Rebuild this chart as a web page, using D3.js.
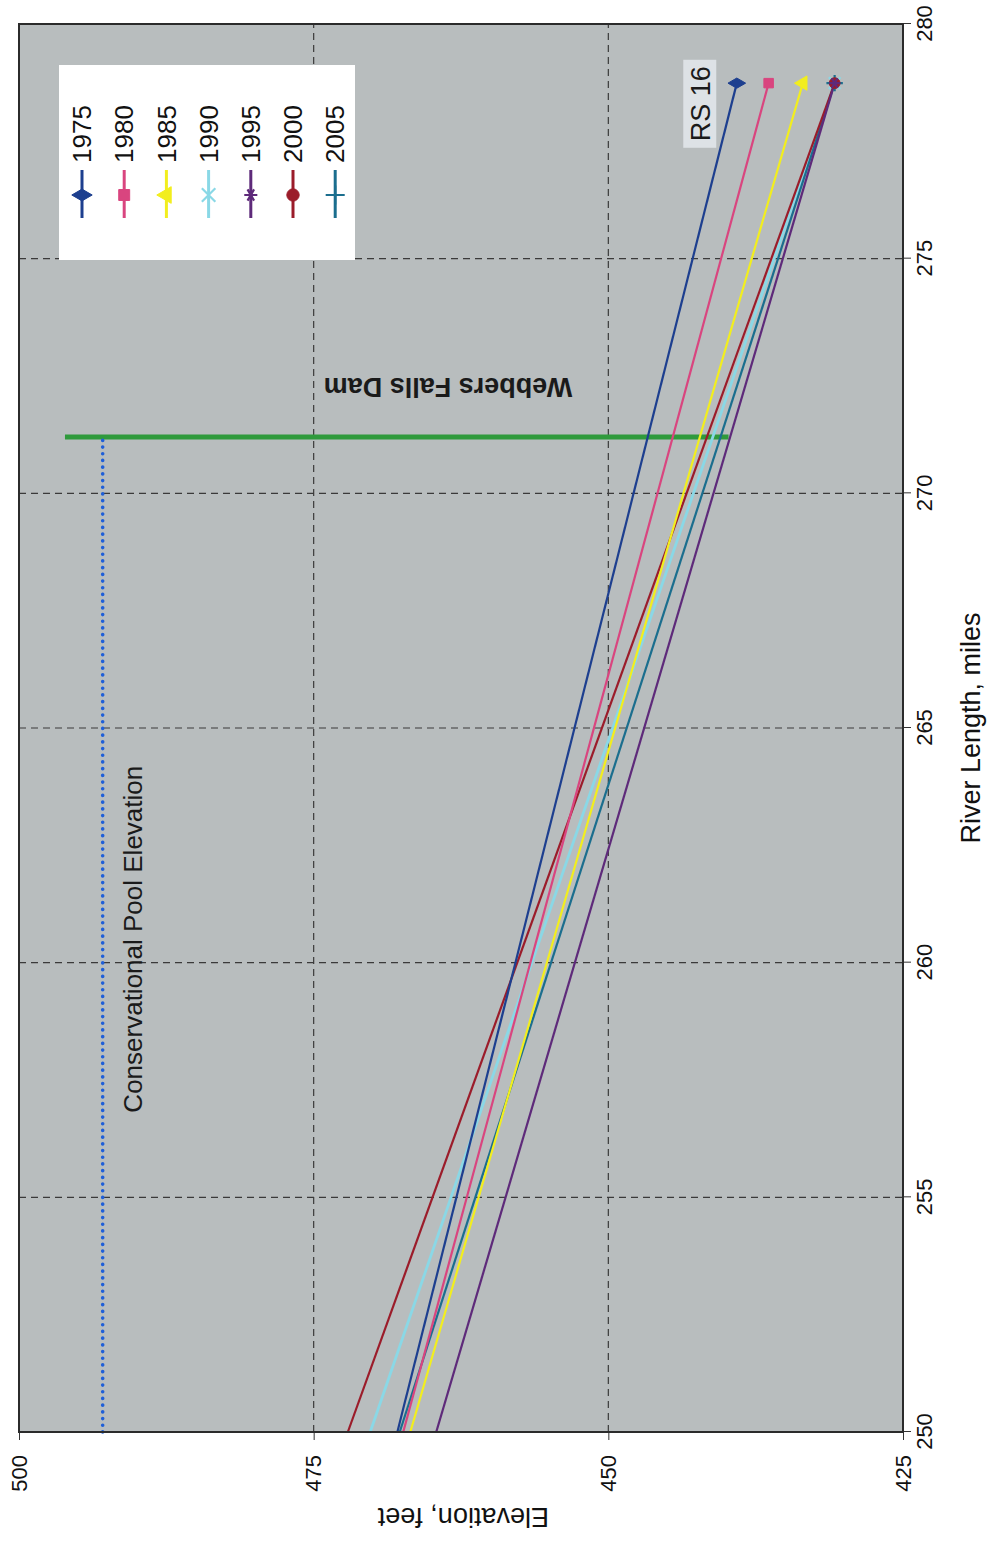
<!DOCTYPE html>
<html>
<head>
<meta charset="utf-8">
<script src="https://cdn.jsdelivr.net/npm/d3@7"></script>
<style>
  body { margin: 0; background: #fff; }
  svg { display: block; font-family: "Liberation Sans", Arial, sans-serif; }
</style>
</head>
<body>
<div id="chart"></div>
<script>
// profile data: river mile vs water surface elevation
const years = ['1975', '1980', '1985', '1990', '1995', '2000', '2005']
const miles = [250, 278.74]
const elev1975 = [467.9, 439.1]
const elev1980 = [467.4, 436.4]
const elev1985 = [466.8, 433.5]
const elev1990 = [470.2, 430.8]
const elev1995 = [464.6, 430.8]
const elev2000 = [472.1, 430.8]
const elev2005 = [467.7, 430.8]
const colors = ['#1d3f8f', '#d9457f', '#f2ee1e', '#8ad8e6', '#5e2a7a', '#9b1c2a', '#1b6e8e']

const mileTicks = [250, 255, 260, 265, 270, 275, 280]
const elevTicks = [425, 450, 475, 500]

// annotations
const damMile = 271.2
const damElev = [496.1, 439.8]
const poolElev = 492.9
const poolMiles = [250, 271.2]

const width = 997
const height = 1543

// the chart is drawn upright and then turned a quarter turn to the left
const left = 19, bottom = 1432
const W = 1408   // mile direction
const H = 884    // elevation direction

const svg = d3.select('#chart').append('svg')
    .attr('width', width)
    .attr('height', height)

const g = svg.append('g')
    .attr('transform', `translate(${left},${bottom}) rotate(-90)`)

const x = d3.scaleLinear().domain([250, 280]).range([0, W])
const y = d3.scaleLinear().domain([425, 500]).range([H, 0])

// plot background
g.append('rect')
    .attr('width', W).attr('height', H)
    .attr('fill', '#b8bdbe')

// grid
g.append('g').selectAll('line')
    .data(mileTicks.slice(1, -1))
    .join('line')
    .attr('x1', d => x(d)).attr('x2', d => x(d))
    .attr('y1', 0).attr('y2', H)
    .attr('stroke', '#3a3a3a').attr('stroke-width', 1.2)
    .attr('stroke-dasharray', '7,5')

g.append('g').selectAll('line')
    .data(elevTicks.slice(1, -1))
    .join('line')
    .attr('y1', d => y(d)).attr('y2', d => y(d))
    .attr('x1', 0).attr('x2', W)
    .attr('stroke', '#3a3a3a').attr('stroke-width', 1.2)
    .attr('stroke-dasharray', '7,5')

// axes
const xAxis = g.append('g')
    .attr('transform', `translate(0,${H})`)
    .call(d3.axisBottom(x).tickValues(mileTicks).tickSize(8).tickPadding(5).tickSizeOuter(0))
const yAxis = g.append('g')
    .call(d3.axisLeft(y).tickValues(elevTicks).tickSize(8).tickPadding(15).tickSizeOuter(0))

;[xAxis, yAxis].forEach(a => {
    a.select('.domain').remove()
    a.selectAll('line').attr('stroke', '#333')
    a.selectAll('text')
        .attr('font-size', 22)
        .attr('font-family', '"Liberation Sans", Arial, sans-serif')
        .attr('fill', '#111')
})

// Webbers Falls Dam
g.append('line')
    .attr('x1', x(damMile)).attr('x2', x(damMile))
    .attr('y1', y(damElev[0])).attr('y2', y(damElev[1]))
    .attr('stroke', '#2f9a3c').attr('stroke-width', 5)

g.append('text')
    .attr('transform', `translate(${x(272.25)},${y(463.6)}) rotate(-90)`)
    .attr('text-anchor', 'middle')
    .attr('dy', '0.35em')
    .attr('font-size', 27)
    .attr('font-weight', 'bold')
    .attr('fill', '#1a1a1a')
    .text('Webbers Falls Dam')

// conservation pool
g.append('line')
    .attr('x1', x(poolMiles[0])).attr('x2', x(poolMiles[1]))
    .attr('y1', y(poolElev)).attr('y2', y(poolElev))
    .attr('stroke', '#1f5fd8').attr('stroke-width', 3.6)
    .attr('stroke-linecap', 'round')
    .attr('stroke-dasharray', '0.1,6.6')

g.append('text')
    .attr('x', x(260.5)).attr('y', y(490.3))
    .attr('text-anchor', 'middle')
    .attr('dy', '0.35em')
    .attr('font-size', 26)
    .attr('fill', '#1a1a1a')
    .text('Conservational Pool Elevation')

// series
const elevs = [elev1975, elev1980, elev1985, elev1990, elev1995, elev2000, elev2005]
const symbols = [d3.symbolDiamond, d3.symbolSquare, d3.symbolTriangle, d3.symbolTimes,
                 d3.symbolAsterisk, d3.symbolCircle, d3.symbolPlus]
const stroked = [false, false, false, true, true, false, true]
const series = years.map((yr, i) => ({
    year: yr,
    color: colors[i],
    symbol: symbols[i],
    stroked: stroked[i],
    points: miles.map((m, j) => ({ mile: m, elev: elevs[i][j] }))
}))

const line = d3.line().x(d => x(d.mile)).y(d => y(d.elev))

// RS 16 label
const rs = g.append('g').attr('transform', `translate(${x(278.3)},${y(442.2)})`)
rs.append('rect')
    .attr('x', -44).attr('y', -17).attr('width', 88).attr('height', 33)
    .attr('fill', '#dde2e6')
rs.append('text')
    .attr('text-anchor', 'middle')
    .attr('dy', '0.35em')
    .attr('font-size', 27)
    .attr('fill', '#1a1a1a')
    .text('RS 16')

const order = [3, 6, 5, 4, 2, 1, 0]
order.forEach(i => {
    const s = series[i]
    g.append('path')
        .attr('d', line(s.points))
        .attr('fill', 'none')
        .attr('stroke', s.color)
        .attr('stroke-width', s.year === '1990' ? 2.8 : 2.2)
})

const drawSymbol = (sel, s, size) => {
    sel.append('path')
        .attr('d', d3.symbol(s.symbol, size)())
        .attr('fill', s.stroked ? 'none' : s.color)
        .attr('stroke', s.color)
        .attr('stroke-width', s.stroked ? 2.2 : 1)
}

order.forEach(i => {
    const s = series[i]
    const last = s.points[s.points.length - 1]
    drawSymbol(g.append('g').attr('transform', `translate(${x(last.mile)},${y(last.elev)})`), s, 90)
})

// plot border
g.append('rect')
    .attr('width', W).attr('height', H)
    .attr('fill', 'none')
    .attr('stroke', '#2b2b2b').attr('stroke-width', 2)

// legend
const legend = g.append('g').attr('transform', 'translate(1172,40)')
legend.append('rect')
    .attr('width', 195).attr('height', 296)
    .attr('fill', '#fff')

series.forEach((s, i) => {
    const row = legend.append('g').attr('transform', `translate(0,${23 + i * 42.2})`)
    row.append('line')
        .attr('x1', 42).attr('x2', 90)
        .attr('stroke', s.color).attr('stroke-width', 3)
    drawSymbol(row.append('g').attr('transform', 'translate(65,0)'), s, 120)
    row.append('text')
        .attr('x', 97)
        .attr('dy', '0.35em')
        .attr('font-size', 26)
        .attr('fill', '#111')
        .text(s.year)
})

// axis titles
g.append('text')
    .attr('x', x(265))
    .attr('y', H + 68)
    .attr('text-anchor', 'middle')
    .attr('dy', '0.35em')
    .attr('font-size', 27)
    .attr('fill', '#111')
    .text('River Length, miles')

g.append('text')
    .attr('transform', `translate(-85,${y(462.3)}) rotate(-90)`)
    .attr('text-anchor', 'middle')
    .attr('dy', '0.35em')
    .attr('font-size', 27)
    .attr('fill', '#111')
    .text('Elevation, feet')
</script>
</body>
</html>
